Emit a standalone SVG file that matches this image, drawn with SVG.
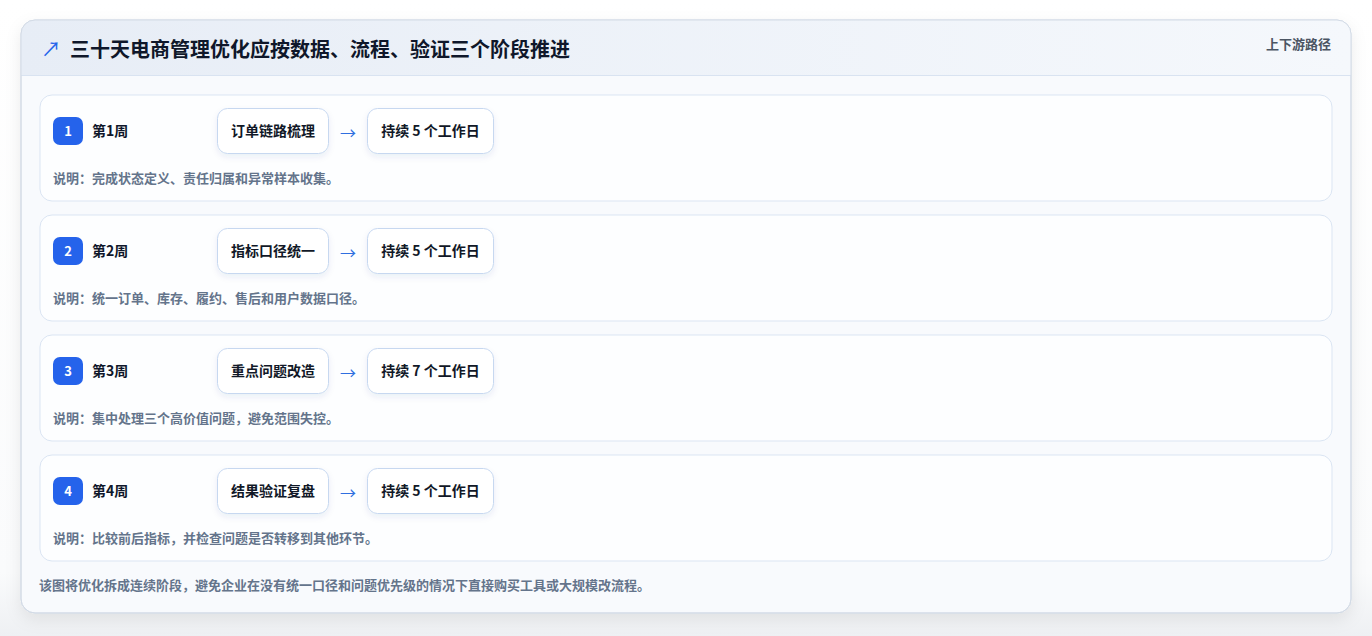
<svg xmlns="http://www.w3.org/2000/svg" width="1372" height="636" viewBox="0 0 1372 636">
<defs>
<linearGradient id="bg" x1="0" y1="0" x2="0" y2="1">
<stop offset="0" stop-color="#ffffff"/><stop offset="0.9" stop-color="#fafbfc"/><stop offset="1" stop-color="#eef0f3"/>
</linearGradient>
<linearGradient id="hdr" x1="0" y1="0" x2="1" y2="0">
<stop offset="0" stop-color="#e7edf6"/><stop offset="1" stop-color="#f5f8fc"/>
</linearGradient>
<filter id="sh" x="-5%" y="-5%" width="110%" height="115%">
<feDropShadow dx="0" dy="6" stdDeviation="8" flood-color="#0f172a" flood-opacity="0.08"/>
</filter>
<filter id="bsh" x="-20%" y="-20%" width="140%" height="160%">
<feDropShadow dx="0" dy="3" stdDeviation="3" flood-color="#1e3a8a" flood-opacity="0.08"/>
</filter>
<clipPath id="cardclip"><rect x="21" y="20" width="1330" height="593" rx="14"/></clipPath>
</defs>
<style>
text{font-family:"Noto Sans CJK SC","Noto Sans",sans-serif;font-weight:700}
.row{fill:#fdfeff;stroke:#dbe5f3;stroke-width:1}
.badge{fill:#2563eb}
.bnum{fill:#ffffff;font-size:13px;text-anchor:middle}
.wk{fill:#0f172a;font-size:14px}
.box{fill:#ffffff;stroke:#c7d8f0;stroke-width:1;filter:url(#bsh)}
.bt{fill:#111827;font-size:14px;text-anchor:middle}
.arr{fill:#2f6fe0;font-size:16px;text-anchor:middle;font-weight:400}
.desc{fill:#64748b;font-size:13px}
</style>
<rect x="0" y="0" width="1372" height="636" fill="url(#bg)"/>
<g id="card">
<rect x="21" y="20" width="1330" height="593" rx="14" fill="#f8fafd" stroke="#d3dbe6" filter="url(#sh)"/>
<rect x="21" y="20" width="1330" height="55" fill="url(#hdr)" clip-path="url(#cardclip)"/>
<line x1="21" y1="75.5" x2="1351" y2="75.5" stroke="#d9e3f1"/>
<rect x="21" y="20" width="1330" height="593" rx="14" fill="none" stroke="#d3dbe6"/>
<text x="41" y="57" fill="#2563eb" style="font-size:20px;font-weight:400">↗</text>
<text x="70" y="57" fill="#0f172a" style="font-size:20px">三十天电商管理优化应按数据、流程、验证三个阶段推进</text>
<text x="1331" y="49" fill="#4b5563" style="font-size:13px;text-anchor:end">上下游路径</text>
</g>
<g id="week1">
<rect class="row" x="40" y="95" width="1292" height="106" rx="12"/>
<rect class="badge" x="53" y="117" width="30" height="28" rx="7"/>
<text class="bnum" x="68" y="136">1</text>
<text class="wk" x="92" y="136">第1周</text>
<rect class="box" x="217.5" y="108.5" width="111" height="45" rx="10"/>
<text class="bt" x="273" y="136">订单链路梳理</text>
<rect class="box" x="367.5" y="108.5" width="126" height="45" rx="10"/>
<text class="bt" x="430.5" y="136">持续 5 个工作日</text>
<text class="desc" x="53" y="183">说明：完成状态定义、责任归属和异常样本收集。</text>
</g>
<g id="week2">
<rect class="row" x="40" y="215" width="1292" height="106" rx="12"/>
<rect class="badge" x="53" y="237" width="30" height="28" rx="7"/>
<text class="bnum" x="68" y="256">2</text>
<text class="wk" x="92" y="256">第2周</text>
<rect class="box" x="217.5" y="228.5" width="111" height="45" rx="10"/>
<text class="bt" x="273" y="256">指标口径统一</text>
<rect class="box" x="367.5" y="228.5" width="126" height="45" rx="10"/>
<text class="bt" x="430.5" y="256">持续 5 个工作日</text>
<text class="desc" x="53" y="303">说明：统一订单、库存、履约、售后和用户数据口径。</text>
</g>
<g id="week3">
<rect class="row" x="40" y="335" width="1292" height="106" rx="12"/>
<rect class="badge" x="53" y="357" width="30" height="28" rx="7"/>
<text class="bnum" x="68" y="376">3</text>
<text class="wk" x="92" y="376">第3周</text>
<rect class="box" x="217.5" y="348.5" width="111" height="45" rx="10"/>
<text class="bt" x="273" y="376">重点问题改造</text>
<rect class="box" x="367.5" y="348.5" width="126" height="45" rx="10"/>
<text class="bt" x="430.5" y="376">持续 7 个工作日</text>
<text class="desc" x="53" y="423">说明：集中处理三个高价值问题，避免范围失控。</text>
</g>
<g id="week4">
<rect class="row" x="40" y="455" width="1292" height="106" rx="12"/>
<rect class="badge" x="53" y="477" width="30" height="28" rx="7"/>
<text class="bnum" x="68" y="496">4</text>
<text class="wk" x="92" y="496">第4周</text>
<rect class="box" x="217.5" y="468.5" width="111" height="45" rx="10"/>
<text class="bt" x="273" y="496">结果验证复盘</text>
<rect class="box" x="367.5" y="468.5" width="126" height="45" rx="10"/>
<text class="bt" x="430.5" y="496">持续 5 个工作日</text>
<text class="desc" x="53" y="543">说明：比较前后指标，并检查问题是否转移到其他环节。</text>
</g>
<g id="connectors">
<text class="arr" x="348" y="139">→</text>
<text class="arr" x="348" y="259">→</text>
<text class="arr" x="348" y="379">→</text>
<text class="arr" x="348" y="499">→</text>
</g>
<g id="footer">
<text class="desc" x="39" y="590">该图将优化拆成连续阶段，避免企业在没有统一口径和问题优先级的情况下直接购买工具或大规模改流程。</text>
</g>
</svg>
